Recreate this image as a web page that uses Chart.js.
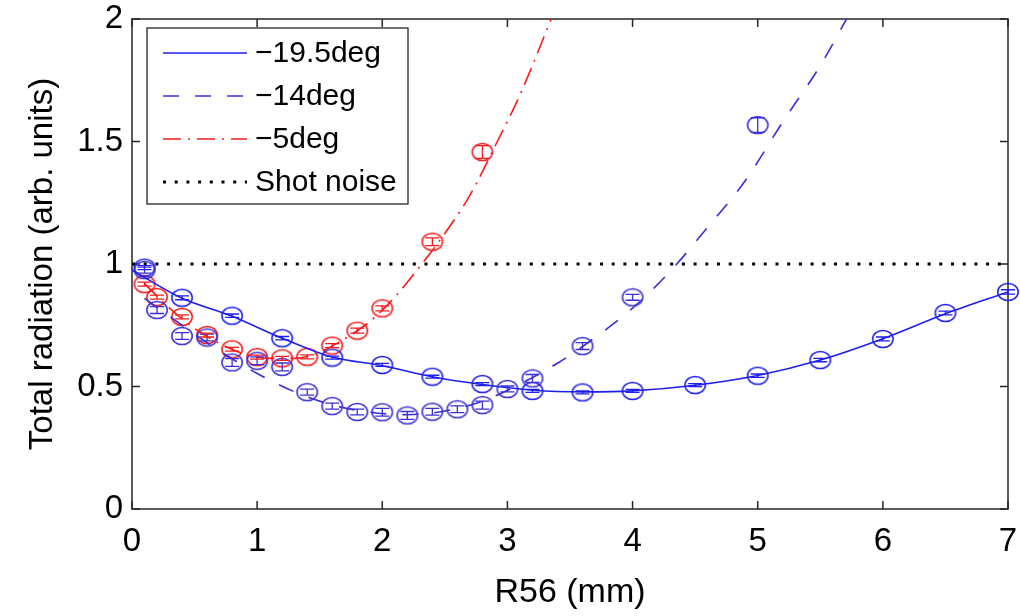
<!DOCTYPE html>
<html>
<head>
<meta charset="utf-8">
<script src="https://cdn.jsdelivr.net/npm/chart.js@4.4.1/dist/chart.umd.min.js"></script>
<style>
  html, body { margin: 0; padding: 0; background: #fff; }
</style>
</head>
<body>
<canvas id="radChart" width="1020" height="616"></canvas>
<script>
// Axis ticks
var xTicks = [0, 1, 2, 3, 4, 5, 6, 7];
var xTickLabels = ['0', '1', '2', '3', '4', '5', '6', '7'];
var yTicks = [0, 0.5, 1, 1.5, 2];
var yTickLabels = ['0', '0.5', '1', '1.5', '2'];

// Series names
var names = ['\u221219.5deg', '\u221214deg', '\u22125deg', 'Shot noise'];

// -19.5 deg: measured points + fit
var pts195X = [0.1, 0.4, 0.8, 1.2, 1.6, 2.0, 2.4, 2.8, 3.2, 3.6, 4.0, 4.5, 5.0, 5.5, 6.0, 6.5, 7.0];
var pts195Y = [0.985, 0.862, 0.789, 0.697, 0.618, 0.588, 0.54, 0.51, 0.482, 0.476, 0.482, 0.506, 0.544, 0.608, 0.694, 0.80, 0.886];
var err195  = [0.008, 0.008, 0.007, 0.007, 0.006, 0.006, 0.006, 0.006, 0.006, 0.006, 0.006, 0.006, 0.007, 0.007, 0.008, 0.008, 0.009];
var fit195X = [0, 0.4, 0.8, 1.2, 1.6, 2.0, 2.4, 2.8, 3.2, 3.6, 4.0, 4.5, 5.0, 5.5, 6.0, 6.5, 7.0];
var fit195Y = [0.975, 0.86, 0.787, 0.697, 0.62, 0.585, 0.54, 0.508, 0.485, 0.478, 0.482, 0.505, 0.545, 0.608, 0.695, 0.797, 0.886];

// -14 deg
var pts14X = [0.1, 0.2, 0.4, 0.6, 0.8, 1.0, 1.2, 1.4, 1.6, 1.8, 2.0, 2.2, 2.4, 2.6, 2.8, 3.0, 3.2, 3.6, 4.0, 5.0];
var pts14Y = [0.975, 0.812, 0.706, 0.70, 0.598, 0.605, 0.58, 0.477, 0.42, 0.396, 0.395, 0.382, 0.397, 0.407, 0.424, 0.49, 0.533, 0.665, 0.864, 1.567];
var err14  = [0.012, 0.014, 0.014, 0.014, 0.016, 0.016, 0.016, 0.012, 0.012, 0.012, 0.016, 0.016, 0.014, 0.014, 0.016, 0.012, 0.016, 0.014, 0.012, 0.03];
var fit14X = [0.1, 0.4, 0.7, 1.0, 1.3, 1.6, 1.9, 2.2, 2.5, 2.8, 3.1, 3.4, 3.7, 4.0, 4.3, 4.6, 4.9, 5.2, 5.5, 5.71];
var fit14Y = [0.86, 0.75, 0.645, 0.553, 0.478, 0.425, 0.395, 0.385, 0.40, 0.44, 0.51, 0.595, 0.70, 0.82, 0.97, 1.15, 1.34, 1.58, 1.81, 2.0];

// -5 deg
var pts5X = [0.1, 0.2, 0.4, 0.6, 0.8, 1.0, 1.2, 1.4, 1.6, 1.8, 2.0, 2.4, 2.8];
var pts5Y = [0.918, 0.865, 0.784, 0.71, 0.652, 0.62, 0.615, 0.621, 0.667, 0.728, 0.819, 1.091, 1.457];
var err5  = [0.008, 0.008, 0.008, 0.008, 0.008, 0.008, 0.008, 0.008, 0.008, 0.01, 0.01, 0.016, 0.026];
var fit5X = [0.1, 0.3, 0.5, 0.7, 0.9, 1.1, 1.3, 1.5, 1.7, 1.9, 2.1, 2.3, 2.5, 2.7, 2.9, 3.1, 3.35];
var fit5Y = [0.92, 0.82, 0.737, 0.675, 0.632, 0.615, 0.615, 0.64, 0.695, 0.765, 0.865, 0.99, 1.125, 1.28, 1.48, 1.69, 2.0];

// Shot-noise level
var shotX = [0, 7];
var shotY = [1, 1];

var blue = '#1e1ef0';
var violet = '#3a2fd6';
var red = '#f81a1a';

function xy(xs, ys) {
    return xs.map(function (x, i) { return { x: x, y: ys[i] }; });
}

// open elliptical marker, as the exported figure draws them
function ringMarker(color) {
    var c = document.createElement('canvas');
    c.width = 24;
    c.height = 20;
    var g = c.getContext('2d');
    g.strokeStyle = color;
    g.lineWidth = 1.5;
    g.beginPath();
    g.ellipse(12, 10, 10.2, 8.6, 0, 0, Math.PI * 2);
    g.stroke();
    return c;
}

function fitLine(label, xs, ys, color, dash) {
    return {
        label: label, inLegend: true,
        data: xy(xs, ys), showLine: true, pointRadius: 0,
        borderColor: color, borderWidth: 1.6, borderDash: dash,
        cubicInterpolationMode: 'monotone'
    };
}

function markers(xs, ys, errs, color) {
    return {
        label: '', data: xy(xs, ys), errors: errs, showLine: false,
        pointStyle: ringMarker(color), pointRadius: 10,
        borderColor: color, clip: false
    };
}

// keep the plot box fixed: no extra room for edge labels
function noEdgePadding(s) {
    s.paddingTop = 0;
    s.paddingBottom = 0;
    s.paddingLeft = 0;
    s.paddingRight = 0;
}

// frame with inward ticks on all four sides
var framePlugin = {
    id: 'frame',
    beforeDatasetsDraw: function (chart) {
        var a = chart.chartArea, ctx = chart.ctx;
        var xs = chart.scales.x, ys = chart.scales.y;
        ctx.save();
        ctx.strokeStyle = '#262626';
        ctx.lineWidth = 1.5;
        ctx.strokeRect(a.left, a.top, a.right - a.left, a.bottom - a.top);
        ctx.beginPath();
        xs.ticks.forEach(function (t) {
            var px = xs.getPixelForValue(t.value);
            ctx.moveTo(px, a.bottom); ctx.lineTo(px, a.bottom - 8);
            ctx.moveTo(px, a.top); ctx.lineTo(px, a.top + 8);
        });
        ys.ticks.forEach(function (t) {
            var py = ys.getPixelForValue(t.value);
            ctx.moveTo(a.left, py); ctx.lineTo(a.left + 8, py);
            ctx.moveTo(a.right, py); ctx.lineTo(a.right - 8, py);
        });
        ctx.stroke();
        ctx.restore();
    }
};

// vertical error bars with caps
var errorBarPlugin = {
    id: 'errorBars',
    afterDatasetsDraw: function (chart) {
        var ctx = chart.ctx, ys = chart.scales.y;
        chart.data.datasets.forEach(function (ds, i) {
            if (!ds.errors) return;
            var meta = chart.getDatasetMeta(i);
            ctx.save();
            ctx.strokeStyle = ds.borderColor;
            ctx.lineWidth = 1.3;
            meta.data.forEach(function (pt, j) {
                var v = ds.data[j].y, e = ds.errors[j];
                var top = ys.getPixelForValue(v + e), bot = ys.getPixelForValue(v - e);
                ctx.beginPath();
                ctx.moveTo(pt.x, top); ctx.lineTo(pt.x, bot);
                ctx.moveTo(pt.x - 7, top); ctx.lineTo(pt.x + 7, top);
                ctx.moveTo(pt.x - 7, bot); ctx.lineTo(pt.x + 7, bot);
                ctx.stroke();
            });
            ctx.restore();
        });
    }
};

// boxed legend in the upper left corner of the plot
var legendBoxPlugin = {
    id: 'legendBox',
    afterDatasetsDraw: function (chart) {
        var a = chart.chartArea, ctx = chart.ctx;
        var left = a.left + 15, top = a.top + 9, w = 261, h = 176;
        ctx.save();
        ctx.fillStyle = '#fff';
        ctx.fillRect(left, top, w, h);
        ctx.strokeStyle = '#262626';
        ctx.lineWidth = 1.3;
        ctx.strokeRect(left, top, w, h);
        ctx.font = '30px "Liberation Sans", Arial, sans-serif';
        ctx.textBaseline = 'middle';
        var rows = chart.data.datasets.filter(function (ds) { return ds.inLegend; });
        rows.forEach(function (ds, k) {
            var y = top + 25 + k * 43;
            ctx.beginPath();
            ctx.setLineDash(ds.borderDash || []);
            ctx.strokeStyle = ds.borderColor;
            ctx.lineWidth = ds.borderWidth;
            ctx.moveTo(left + 16, y);
            ctx.lineTo(left + 100, y);
            ctx.stroke();
            ctx.setLineDash([]);
            ctx.fillStyle = '#000';
            ctx.fillText(ds.label, left + 108, y + 1);
        });
        ctx.restore();
    }
};

Chart.defaults.font.family = '"Liberation Sans", Arial, sans-serif';
Chart.defaults.color = '#000';

var ctxRad = document.getElementById('radChart').getContext('2d');
var radChart = new Chart(ctxRad, {
    type: 'scatter',
    data: {
        datasets: [
            fitLine(names[0], fit195X, fit195Y, blue, []),
            fitLine(names[1], fit14X, fit14Y, violet, [16, 16]),
            fitLine(names[2], fit5X, fit5Y, red, [18, 7, 2, 7]),
            {
                label: names[3], inLegend: true,
                data: xy(shotX, shotY), showLine: true, pointRadius: 0,
                borderColor: '#000', borderWidth: 3, borderDash: [3, 8.7]
            },
            markers(pts195X, pts195Y, err195, blue),
            markers(pts14X, pts14Y, err14, violet),
            markers(pts5X, pts5Y, err5, red)
        ]
    },
    options: {
        responsive: false,
        animation: false,
        devicePixelRatio: 1,
        layout: { autoPadding: false, padding: { left: 0, top: 19, right: 12, bottom: 0 } },
        plugins: {
            legend: { display: false },
            tooltip: { enabled: false }
        },
        scales: {
            x: {
                type: 'linear', min: 0, max: 7,
                afterBuildTicks: function (s) { s.ticks = xTicks.map(function (v) { return { value: v }; }); },
                afterFit: function (s) { s.height = 107; noEdgePadding(s); },
                grid: { display: false, drawTicks: false },
                border: { display: false },
                ticks: {
                    font: { size: 33, lineHeight: 1 }, padding: 16, maxRotation: 0, autoSkip: false,
                    callback: function (v, i) { return xTickLabels[i]; }
                },
                title: { display: true, text: 'R56 (mm)', font: { size: 34 }, padding: { top: 0, bottom: 3 } }
            },
            y: {
                type: 'linear', min: 0, max: 2,
                afterBuildTicks: function (s) { s.ticks = yTicks.map(function (v) { return { value: v }; }); },
                afterFit: function (s) { s.width = 132; noEdgePadding(s); },
                grid: { display: false, drawTicks: false },
                border: { display: false },
                ticks: {
                    font: { size: 33, lineHeight: 1 }, padding: 9, autoSkip: false,
                    callback: function (v, i) { return yTickLabels[i]; }
                },
                title: { display: true, text: 'Total radiation (arb. units)', font: { size: 33 }, padding: { top: 23, bottom: 0 } }
            }
        }
    },
    plugins: [framePlugin, errorBarPlugin, legendBoxPlugin]
});
</script>
</body>
</html>
